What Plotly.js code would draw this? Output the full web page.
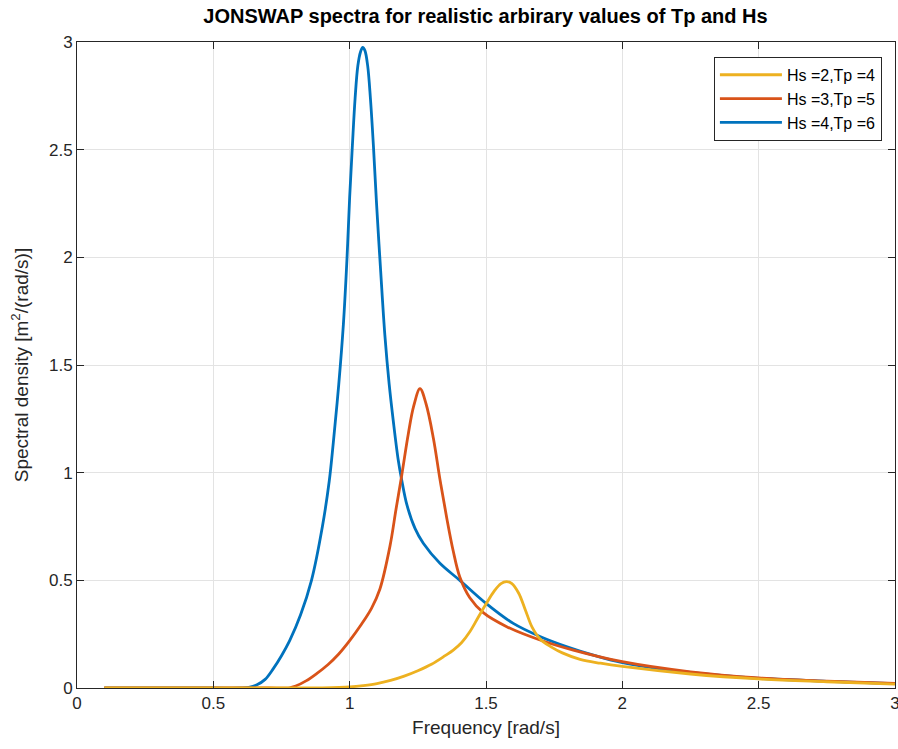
<!DOCTYPE html>
<html>
<head>
<meta charset="utf-8">
<script src="https://cdn.plot.ly/plotly-3.0.1.min.js"></script>
<style>html,body{margin:0;padding:0;background:#fff;}#chart{width:898px;height:749px;}</style>
</head>
<body>
<div id="chart"></div>
<script>
// Series names
const seriesNames = ['Hs =2,Tp =4', 'Hs =3,Tp =5', 'Hs =4,Tp =6'];

// Hs=2, Tp=4 (yellow)
const freqHs2 = [0.1, 0.5, 0.8, 0.9, 1.0, 1.05, 1.1, 1.15, 1.2, 1.25, 1.3, 1.35, 1.38, 1.41, 1.44, 1.47, 1.50, 1.53, 1.555, 1.575, 1.595, 1.62, 1.645, 1.67, 1.70, 1.74, 1.78, 1.845, 1.92, 2.0, 2.25, 2.5, 2.75, 3.0];
const densHs2 = [0, 0, 0, 0.001, 0.005, 0.011, 0.02, 0.035, 0.055, 0.08, 0.11, 0.15, 0.176, 0.21, 0.26, 0.325, 0.39, 0.45, 0.485, 0.494, 0.485, 0.44, 0.36, 0.28, 0.225, 0.19, 0.163, 0.133, 0.115, 0.10, 0.065, 0.042, 0.029, 0.018];

// Hs=3, Tp=5 (red)
const freqHs3 = [0.1, 0.5, 0.7, 0.78, 0.80, 0.84, 0.88, 0.92, 0.96, 1.00, 1.04, 1.08, 1.111, 1.148, 1.17, 1.19, 1.215, 1.235, 1.258, 1.28, 1.307, 1.331, 1.356, 1.38, 1.404, 1.44, 1.49, 1.576, 1.698, 1.82, 2.0, 2.25, 2.5, 2.75, 3.0];
const densHs3 = [0, 0, 0, 0.001, 0.008, 0.033, 0.068, 0.108, 0.158, 0.22, 0.29, 0.37, 0.46, 0.66, 0.83, 0.98, 1.18, 1.31, 1.39, 1.32, 1.16, 0.97, 0.79, 0.635, 0.515, 0.42, 0.35, 0.285, 0.223, 0.176, 0.122, 0.075, 0.047, 0.032, 0.021];

// Hs=4, Tp=6 (blue)
const freqHs4 = [0.1, 0.3, 0.5, 0.6, 0.63, 0.66, 0.69, 0.72, 0.75, 0.78, 0.82, 0.86, 0.90, 0.925, 0.94, 0.96, 0.977, 0.99, 1.00, 1.01, 1.02, 1.03, 1.04, 1.048, 1.056, 1.066, 1.076, 1.087, 1.099, 1.114, 1.129, 1.145, 1.16, 1.178, 1.191, 1.21, 1.24, 1.27, 1.331, 1.404, 1.50, 1.60, 1.70, 1.80, 1.90, 2.0, 2.25, 2.5, 2.75, 3.0];
const densHs4 = [0, 0, 0, 0, 0.003, 0.015, 0.04, 0.09, 0.15, 0.22, 0.34, 0.50, 0.75, 0.96, 1.14, 1.41, 1.69, 1.99, 2.28, 2.52, 2.74, 2.89, 2.955, 2.975, 2.96, 2.89, 2.74, 2.52, 2.24, 1.93, 1.64, 1.41, 1.24, 1.06, 0.965, 0.85, 0.74, 0.672, 0.579, 0.50, 0.393, 0.30, 0.238, 0.19, 0.15, 0.118, 0.072, 0.045, 0.031, 0.02];

const tickVals = [0, 0.5, 1, 1.5, 2, 2.5, 3];
const tickText = ['0', '0.5', '1', '1.5', '2', '2.5', '3'];

const colors = ['#EDB120', '#D95319', '#0072BD'];

const traces = [
  {x: freqHs4, y: densHs4, name: seriesNames[2], line: {color: colors[2]}},
  {x: freqHs3, y: densHs3, name: seriesNames[1], line: {color: colors[1]}},
  {x: freqHs2, y: densHs2, name: seriesNames[0], line: {color: colors[0]}}
].map(t => Object.assign(t, {type: 'scatter', mode: 'lines', line: Object.assign(t.line, {width: 2.8, shape: 'spline', smoothing: 1})}));

const FONT = 'Liberation Sans, Arial, sans-serif';

const axisCommon = {
  range: [0, 3], tickvals: tickVals, ticktext: tickText,
  showgrid: true, gridcolor: '#e3e3e3', gridwidth: 1,
  zeroline: false, showline: true, linecolor: '#262626', linewidth: 1,
  mirror: 'ticks', ticks: 'inside', ticklen: 7, tickcolor: '#262626',
  ticklabeloverflow: 'allow',
  tickfont: {family: FONT, size: 17, color: '#262626'}
};

const layout = {
  width: 898, height: 749,
  margin: {l: 77, r: 3, t: 42, b: 61},
  paper_bgcolor: '#fff', plot_bgcolor: '#fff',
  font: {family: FONT, color: '#262626'},
  title: {text: '<b>JONSWAP spectra for realistic arbirary values of Tp and Hs</b>', font: {family: FONT, size: 20, color: '#000'}, x: 0.5406, xanchor: 'center', y: 0.978, yanchor: 'middle'},
  xaxis: Object.assign({}, axisCommon, {title: {text: 'Frequency [rad/s]', font: {family: FONT, size: 19, color: '#262626'}, standoff: 8}}),
  yaxis: Object.assign({}, axisCommon, {title: {text: 'Spectral density [m<sup>2</sup>/(rad/s)]', font: {family: FONT, size: 19, color: '#262626'}, standoff: 15}}),
  showlegend: true,
  legend: {x: 0.984, y: 0.977, xanchor: 'right', yanchor: 'top', traceorder: 'reversed', bgcolor: '#fff', bordercolor: '#262626', borderwidth: 1, font: {family: FONT, size: 16, color: '#000'}, itemwidth: 62, tracegroupgap: 0}
};

Plotly.newPlot('chart', traces, layout, {displayModeBar: false, staticPlot: true});
</script>
</body>
</html>
